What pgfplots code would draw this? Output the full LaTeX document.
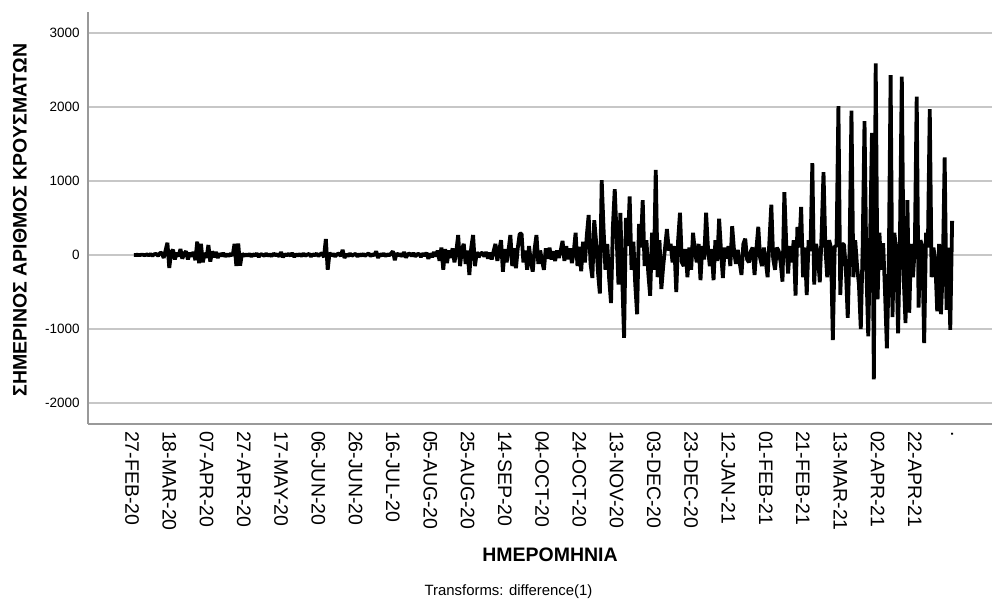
\documentclass[border=0pt]{standalone}
\usepackage{fontspec}
\setmainfont{Liberation Sans}
\usepackage{pgfplots}
\pgfplotsset{compat=1.18}

% Daily new cases, first difference (day 0 = 27-FEB-20)
\pgfplotstableread{
day cases
1 0
2 1
3 2
4 -1
5 3
6 2
7 -2
8 8
9 -4
10 12
11 -8
12 10
13 15
14 -12
15 25
16 30
17 -40
18 60
19 165
20 -175
21 40
22 70
23 -60
24 30
25 -20
26 80
27 -50
28 20
29 50
30 -60
31 30
32 -20
33 40
34 -70
35 180
36 -110
37 150
38 -100
39 30
40 -40
41 135
42 -90
43 50
44 -30
45 40
46 -40
47 20
48 -15
49 25
50 -20
51 10
52 -15
53 20
54 -10
55 150
56 -150
57 155
58 -145
59 20
60 -15
61 10
62 -10
63 15
64 -20
65 12
66 -8
67 20
68 -25
69 10
70 5
71 -12
72 18
73 -10
74 8
75 -15
76 20
77 -5
78 10
79 -20
80 40
81 -30
82 10
83 -5
84 15
85 -10
86 25
87 -25
88 10
89 -8
90 12
91 -15
92 20
93 -10
94 5
95 15
96 -20
97 10
98 -5
99 20
100 -15
101 10
102 25
103 -30
104 215
105 -200
106 30
107 -10
108 15
109 -20
110 10
111 20
112 -15
113 70
114 -40
115 10
116 -15
117 20
118 -10
119 5
120 15
121 -20
122 10
123 -8
124 15
125 -12
126 8
127 20
128 -15
129 10
130 -5
131 50
132 -40
133 15
134 -10
135 20
136 -15
137 10
138 -5
139 20
140 50
141 -70
142 25
143 -10
144 15
145 -20
146 40
147 -35
148 10
149 20
150 -15
151 25
152 -20
153 10
154 15
155 -25
156 20
157 -10
158 30
159 -50
160 20
161 -30
162 40
163 -20
164 60
165 -80
166 100
167 -200
168 80
169 -110
170 60
171 -40
172 90
173 -100
174 50
175 270
176 -150
177 80
178 150
179 -120
180 60
181 -270
182 100
183 270
184 -150
185 40
186 -30
187 20
188 30
189 -20
190 40
191 -50
192 30
193 -60
194 50
195 150
196 -80
197 60
198 200
199 -225
200 80
201 -100
202 60
203 270
204 -150
205 90
206 -180
207 100
208 285
209 290
210 -100
211 60
212 -200
213 120
214 -90
215 -225
216 80
217 270
218 -120
219 60
220 -80
221 -200
222 90
223 -50
224 100
225 -60
226 50
227 -80
228 60
229 -40
230 60
231 190
232 -80
233 120
234 -60
235 90
236 -110
237 40
238 300
239 -150
240 110
241 -220
242 180
243 -100
244 260
245 540
246 -120
247 -310
248 470
249 180
250 -230
251 -520
252 1010
253 350
254 -200
255 150
256 -320
257 -650
258 380
259 890
260 250
261 -400
262 570
263 -300
264 -1120
265 500
266 120
267 790
268 -200
269 180
270 -400
271 -800
272 420
273 100
274 740
275 -150
276 200
277 -250
278 -550
279 300
280 -200
281 1150
282 -300
283 200
284 -460
285 -150
286 100
287 350
288 60
289 150
290 -100
291 120
292 -500
293 200
294 570
295 -100
296 -150
297 80
298 -300
299 100
300 -200
301 300
302 50
303 -100
304 150
305 -340
306 120
307 -60
308 570
309 100
310 -150
311 80
312 -340
313 200
314 -80
315 490
316 60
317 -310
318 100
319 -50
320 120
321 -150
322 390
323 60
324 -120
325 70
326 -100
327 -270
328 150
329 220
330 -60
331 -100
332 50
333 100
334 -270
335 80
336 380
337 -40
338 -150
339 100
340 -80
341 -300
342 200
343 680
344 -50
345 -200
346 100
347 50
348 -100
349 -360
350 850
351 150
352 -250
353 120
354 -100
355 200
356 -550
357 380
358 100
359 650
360 -300
361 100
362 -540
363 200
364 50
365 1240
366 -400
367 150
368 0
369 -370
370 300
371 1120
372 100
373 -300
374 200
375 100
376 -1150
377 110
378 130
379 2010
380 -540
381 150
382 140
383 -200
384 -850
385 100
386 1950
387 -300
388 200
389 -150
390 -400
391 -1000
392 100
393 1810
394 -200
395 -1100
396 200
397 1650
398 -1680
399 2590
400 -600
401 300
402 -200
403 160
404 -500
405 -1260
406 -200
407 2430
408 -840
409 300
410 70
411 -1060
412 200
413 2410
414 -300
415 -920
416 740
417 -780
418 150
419 -300
420 110
421 2140
422 -710
423 200
424 110
425 -1190
426 300
427 100
428 1970
429 -300
430 100
431 -100
432 -760
433 150
434 -800
435 -200
436 1320
437 -740
438 100
439 -1010
440 460
}\diffcases

\begin{document}
\begin{tikzpicture}[x=1pt,y=1pt]
\useasboundingbox (0,0) rectangle (500,301.5);
\begin{axis}[
  at={(44pt,89.5pt)}, anchor=south west,
  scale only axis, width=452pt, height=206pt,
  xmin=-23.6, xmax=461.4, ymin=-2284, ymax=3284,
  axis lines=left,
  axis line style={-, draw=black!40, line width=0.8pt},
  ytick={-2000,-1000,0,1000,2000,3000},
  yticklabels={-2000,-1000,0,1000,2000,3000},
  ymajorgrids,
  grid style={black!22, line width=0.8pt},
  xtick={0,20,...,440},
  xticklabels={27-FEB-20,18-MAR-20,07-APR-20,27-APR-20,17-MAY-20,06-JUN-20,26-JUN-20,16-JUL-20,05-AUG-20,25-AUG-20,14-SEP-20,04-OCT-20,24-OCT-20,13-NOV-20,03-DEC-20,23-DEC-20,12-JAN-21,01-FEB-21,21-FEB-21,13-MAR-21,02-APR-21,22-APR-21,.},
  major tick length=0pt,
  x tick label style={rotate=-90, anchor=west, font=\fontsize{9.75}{10}\selectfont},
  y tick label style={font=\fontsize{6.75}{7}\selectfont, xshift=-0.6pt},
]
\addplot[black, line width=1.9pt, line join=bevel, mark=none] table[x=day, y=cases] {\diffcases};
\end{axis}
\node[rotate=90, font=\bfseries\fontsize{9.75}{10}\selectfont] at (10,191.5) {ΣΗΜΕΡΙΝΟΣ ΑΡΙΘΜΟΣ ΚΡΟΥΣΜΑΤΩΝ};
\node[font=\bfseries\fontsize{9.75}{10}\selectfont] at (275,24) {ΗΜΕΡΟΜΗΝΙΑ};
\node[font=\fontsize{7.45}{8}\selectfont] at (254.25,5.5) {Transforms: difference(1)};
\end{tikzpicture}
\end{document}
